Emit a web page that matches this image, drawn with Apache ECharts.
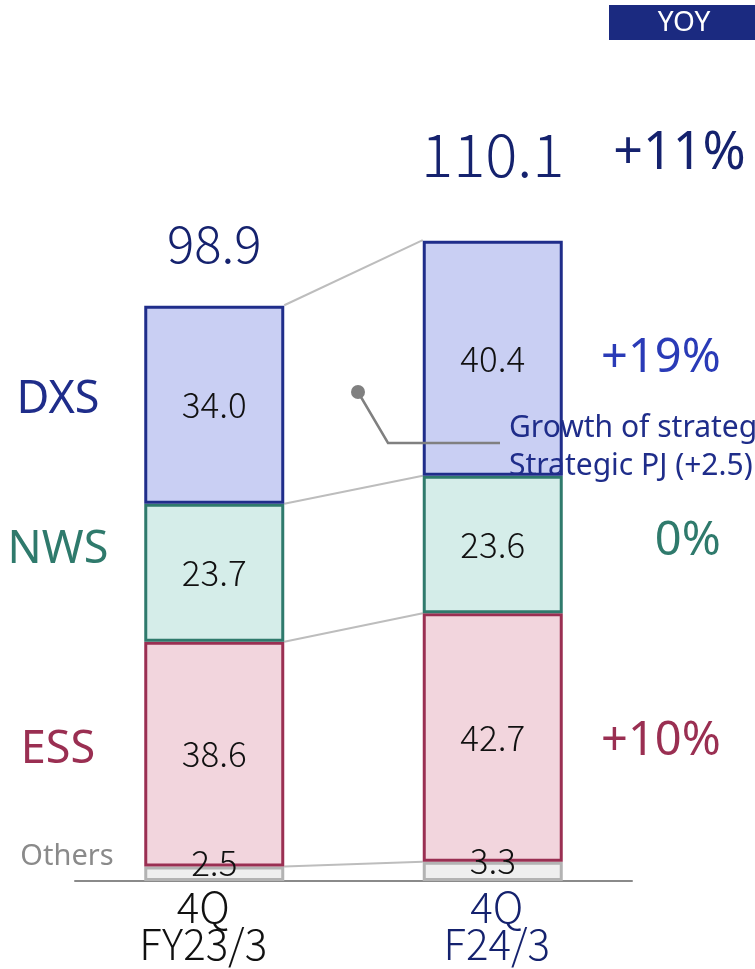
<!DOCTYPE html>
<html>
<head>
<meta charset="utf-8">
<script src="https://cdn.jsdelivr.net/npm/echarts@6/dist/echarts.min.js"></script>
<style>
  html, body { margin: 0; padding: 0; background: #fff; }
  #chart { width: 755px; height: 969px; }
</style>
</head>
<body>
<div id="chart"></div>
<script>
// 四半期
var categories = ['4Q\nFY23/3', '4Q\nF24/3'];
// セグメント別売上
var others = [2.5, 3.3];
var ess = [38.6, 42.7];
var nws = [23.7, 23.6];
var dxs = [34.0, 40.4];
var totals = [98.9, 110.1];
// 前年同期比（右列）
var yoyTotal = '+11%';
var yoyDxs = '+19%';
var yoyNws = '0%';
var yoyEss = '+10%';

var NAVY = '#15226e';
var DXS_C = '#1f2d8a';
var NWS_C = '#2f7a6c';
var ESS_C = '#9a2f52';
var NUM_FONT = '"Noto Sans CJK JP", "Noto Sans", sans-serif';
var TXT_FONT = '"Noto Sans", "Open Sans", sans-serif';

var chart = echarts.init(document.getElementById('chart'));

// 段の境界（累積値）
var lvOthers = others.map(function (v) { return v; });
var lvEss = others.map(function (v, i) { return v + ess[i]; });
var lvNws = lvEss.map(function (v, i) { return v + nws[i]; });
var connectors = [
  [0, lvOthers[0], lvOthers[1]],
  [0, lvEss[0], lvEss[1]],
  [0, lvNws[0], lvNws[1]],
  [0, totals[0], totals[1]]
];
// 右列の位置（2本目の各段の中央）
var yoyData = [
  [1, totals[1], yoyTotal, NAVY, 52, 253, -86],
  [1, lvNws[1] + dxs[1] / 2, yoyDxs, '#2a3bb7', 47, 228, 0],
  [1, lvEss[1] + nws[1] / 2, yoyNws, NWS_C, 47, 228, -3],
  [1, lvOthers[1] + ess[1] / 2, yoyEss, ESS_C, 47, 228, 4]
];

function segLabel(extra) {
  var l = {
    show: true,
    position: 'inside',
    color: '#111',
    fontSize: 35,
    fontWeight: 300,
    fontFamily: NUM_FONT,
    formatter: function (p) { return p.value.toFixed(1); }
  };
  for (var k in extra) l[k] = extra[k];
  return l;
}

function barSeries(name, data, fill, border, extraLabel) {
  return {
    name: name,
    type: 'bar',
    stack: 'total',
    barWidth: 140,
    data: data,
    itemStyle: { color: fill, borderColor: border, borderWidth: 3 },
    label: segLabel(extraLabel || {}),
    z: 3
  };
}

var option = {
  animation: false,
  grid: { left: 75, right: 123, top: 66, bottom: 88 },
  xAxis: {
    type: 'category',
    data: categories,
    axisLine: { lineStyle: { color: '#8a8a8a', width: 2 } },
    axisTick: { show: false },
    axisLabel: {
      margin: 8,
      formatter: function (v, i) {
        var tag = i === 0 ? 'a' : 'b';
        return v.split('\n').map(function (s) { return '{' + tag + '|' + s + '}'; }).join('\n');
      },
      rich: {
        a: { fontSize: 42, fontWeight: 300, lineHeight: 37, fontFamily: NUM_FONT, color: '#111', padding: [0, 22, 0, 0] },
        b: { fontSize: 42, fontWeight: 300, lineHeight: 37, fontFamily: NUM_FONT, color: NAVY, padding: [0, 0, 0, 8] }
      }
    }
  },
  yAxis: {
    type: 'value',
    min: 0,
    max: 140,
    show: false,
    splitLine: { show: false }
  },
  series: [
    {
      type: 'custom',
      renderItem: function (params, api) {
        var p0 = api.coord([0, api.value(1)]);
        var p1 = api.coord([1, api.value(2)]);
        return {
          type: 'line',
          shape: { x1: p0[0] + 70, y1: p0[1], x2: p1[0] - 70, y2: p1[1] },
          style: { stroke: '#bdbdbd', lineWidth: 2 }
        };
      },
      data: connectors,
      z: 1,
      silent: true
    },
    barSeries('Others', others, '#efefef', '#b3b3b3', { offset: [0, -11] }),
    barSeries('ESS', ess, '#f2d5dd', ESS_C),
    barSeries('NWS', nws, '#d5ede9', NWS_C),
    barSeries('DXS', dxs, '#c9cff3', DXS_C),
    {
      type: 'scatter',
      symbolSize: 0,
      itemStyle: { opacity: 1 },
      data: [
        { value: totals[0], label: { fontSize: 51, offset: [0, -62] } },
        { value: totals[1], label: { fontSize: 60, offset: [0, -86] } }
      ],
      label: {
        show: true,
        position: 'inside',
        color: NAVY,
        fontWeight: 300,
        fontFamily: NUM_FONT,
        formatter: function (p) { return p.value.toFixed(1); }
      },
      z: 5
    },
    {
      type: 'custom',
      renderItem: function (params, api) {
        var item = yoyData[params.dataIndex];
        var p = api.coord([item[0], item[1]]);
        return {
          type: 'text',
          x: p[0] + item[5],
          y: p[1] + item[6],
          style: {
            text: item[2],
            fill: item[3],
            font: item[4] + 'px ' + TXT_FONT,
            align: 'right',
            verticalAlign: 'middle'
          }
        };
      },
      data: yoyData.map(function (d) { return [d[0], d[1]]; }),
      z: 5,
      silent: true
    }
  ],
  graphic: [
    { type: 'rect', shape: { x: 609, y: 5, width: 146, height: 35 }, style: { fill: '#1b2a80' } },
    { type: 'text', x: 684, y: 23, style: { text: 'YOY', fill: '#fff', font: '28px ' + TXT_FONT, align: 'center', verticalAlign: 'middle' } },
    { type: 'text', x: 58, y: 400, style: { text: 'DXS', fill: DXS_C, font: '45px ' + TXT_FONT, align: 'center', verticalAlign: 'middle' } },
    { type: 'text', x: 58, y: 550, style: { text: 'NWS', fill: NWS_C, font: '45px ' + TXT_FONT, align: 'center', verticalAlign: 'middle' } },
    { type: 'text', x: 58, y: 750, style: { text: 'ESS', fill: ESS_C, font: '45px ' + TXT_FONT, align: 'center', verticalAlign: 'middle' } },
    { type: 'text', x: 67, y: 857, style: { text: 'Others', fill: '#8a8a8a', font: '29px ' + TXT_FONT, align: 'center', verticalAlign: 'middle' } },
    { type: 'polyline', shape: { points: [[358, 392], [388, 443], [500, 443]] }, style: { stroke: '#808080', lineWidth: 2.5, fill: null }, z: 10 },
    { type: 'circle', shape: { cx: 358, cy: 392, r: 7 }, style: { fill: '#808080' }, z: 10 },
    { type: 'text', x: 509, y: 428, style: { text: 'Growth of strateg', fill: DXS_C, font: '30px ' + TXT_FONT, verticalAlign: 'middle' }, z: 10 },
    { type: 'text', x: 509, y: 466, style: { text: 'Strategic PJ (+2.5)', fill: DXS_C, font: '30px ' + TXT_FONT, verticalAlign: 'middle' }, z: 10 }
  ]
};

chart.setOption(option);
</script>
</body>
</html>
